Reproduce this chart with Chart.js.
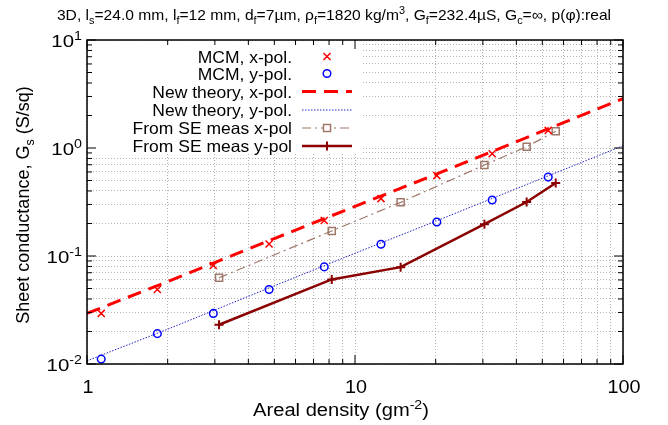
<!DOCTYPE html>
<html>
<head>
<meta charset="utf-8">
<script src="https://cdn.jsdelivr.net/npm/chart.js@4.4.0/dist/chart.umd.min.js"></script>
<style>
  html, body { margin: 0; padding: 0; background: #fff; }
  #wrap { width: 668px; height: 425px; }
</style>
</head>
<body>
<div id="wrap"><canvas id="chart" width="668" height="425"></canvas></div>
<script>
// values
const mcmX = [1.13, 1.83, 2.96, 4.78, 7.68, 12.5, 20.2, 32.5, 52.6];
const mcmXpol = [0.0294, 0.049, 0.0817, 0.129, 0.213, 0.34, 0.555, 0.885, 1.455];
const mcmYpol = [0.0111, 0.0191, 0.0294, 0.049, 0.0793, 0.1285, 0.2066, 0.33, 0.538];

const theoryX = [1, 2, 5, 10, 20, 50, 100];
const theoryXpol = [0.0294, 0.058, 0.145, 0.288, 0.57, 1.43, 2.86];
const theoryYpol = [0.0107, 0.021, 0.053, 0.106, 0.21, 0.525, 1.05];

const seX = [3.11, 8.19, 14.8, 30.4, 43.7, 56.1];
const seXpol = [0.0628, 0.1706, 0.314, 0.695, 1.028, 1.43];
const seYpol = [0.0231, 0.0607, 0.0788, 0.197, 0.316, 0.474];

const xTickValues = [1, 2, 3, 4, 5, 6, 7, 8, 9, 10, 20, 30, 40, 50, 60, 70, 80, 90, 100];
const yTickValues = [0.01, 0.02, 0.03, 0.04, 0.05, 0.06, 0.07, 0.08, 0.09,
                     0.1, 0.2, 0.3, 0.4, 0.5, 0.6, 0.7, 0.8, 0.9,
                     1, 2, 3, 4, 5, 6, 7, 8, 9, 10];
const xLabels = ["1", "10", "100"];
const yLabelExps = ["1", "0", "-1", "-2"];

const FONT = "'Liberation Sans', Arial, sans-serif";

function pts(xs, ys) {
    return xs.map((x, i) => ({ x: x, y: ys[i] }));
}

// text with sub/superscripts: parts = [[text, mode]], mode 0 normal, 1 sup, -1 sub
function drawRich(ctx, parts, x, y, size, align, hs) {
    hs = hs || 1;
    let total = 0;
    const widths = parts.map(p => {
        ctx.font = (p[1] ? size * 0.7 : size) + "px " + FONT;
        const w = ctx.measureText(p[0]).width;
        total += w;
        return w;
    });
    ctx.save();
    ctx.translate(x, y);
    ctx.scale(hs, 1);
    let cx = align === "center" ? -total / 2 : align === "right" ? -total : 0;
    ctx.textAlign = "left";
    ctx.textBaseline = "alphabetic";
    parts.forEach((p, i) => {
        ctx.font = (p[1] ? size * 0.7 : size) + "px " + FONT;
        let dy = p[1] === 1 ? -size * 0.42 : p[1] === -1 ? size * 0.25 : 0;
        ctx.fillText(p[0], cx, dy);
        cx += widths[i];
    });
    ctx.restore();
}

const legendItems = [
    { text: "MCM, x-pol.", ds: 0 },
    { text: "MCM, y-pol.", ds: 1 },
    { text: "New theory, x-pol.", ds: 2 },
    { text: "New theory, y-pol.", ds: 3 },
    { text: "From SE meas x-pol", ds: 4 },
    { text: "From SE meas y-pol", ds: 5 }
];

const decorPlugin = {
    id: "decor",
    beforeDatasetsDraw(chart) {
        const ctx = chart.ctx;
        const area = chart.chartArea;
        // opaque key box
        ctx.save();
        ctx.fillStyle = "#fff";
        ctx.fillRect(area.left + 1, area.top + 1, 275, 112);
        ctx.restore();
    },
    afterDatasetsDraw(chart) {
        const ctx = chart.ctx;
        const area = chart.chartArea;
        const xs = chart.scales.x, ys = chart.scales.y;
        ctx.save();

        // frame
        ctx.strokeStyle = "#000";
        ctx.lineWidth = 1.5;
        ctx.setLineDash([]);
        ctx.strokeRect(area.left, area.top, area.right - area.left, area.bottom - area.top);

        // inward ticks on all sides
        ctx.lineWidth = 1;
        ctx.beginPath();
        xTickValues.forEach(v => {
            const major = Math.abs(Math.log10(v) - Math.round(Math.log10(v))) < 1e-9;
            const len = major ? 9 : 5;
            const px = xs.getPixelForValue(v);
            ctx.moveTo(px, area.bottom); ctx.lineTo(px, area.bottom - len);
            ctx.moveTo(px, area.top); ctx.lineTo(px, area.top + len);
        });
        yTickValues.forEach(v => {
            const major = Math.abs(Math.log10(v) - Math.round(Math.log10(v))) < 1e-9;
            const len = major ? 9 : 5;
            const py = ys.getPixelForValue(v);
            ctx.moveTo(area.left, py); ctx.lineTo(area.left + len, py);
            ctx.moveTo(area.right, py); ctx.lineTo(area.right - len, py);
        });
        ctx.stroke();

        ctx.fillStyle = "#000";
        // x tick labels
        [1, 10, 100].forEach((v, i) => {
            drawRich(ctx, [[xLabels[i], 0]], xs.getPixelForValue(v) + 1, area.bottom + 29, 18, "center", 1.1);
        });
        // y tick labels
        [10, 1, 0.1, 0.01].forEach((v, i) => {
            drawRich(ctx, [["10", 0], [yLabelExps[i], 1]], area.left - 5, ys.getPixelForValue(v) + 7, 17, "right", 1.2);
        });

        // axis titles
        drawRich(ctx, [["Areal density (gm", 0], ["-2", 1], [")", 0]], 341, 416, 17.5, "center", 1.15);
        ctx.save();
        ctx.translate(29, 205);
        ctx.rotate(-Math.PI / 2);
        drawRich(ctx, [["Sheet conductance, G", 0], ["s", -1], [" (S/sq)", 0]], 0, 0, 18, "center");
        ctx.restore();

        // title
        drawRich(ctx, [
            ["3D, l", 0], ["s", -1], ["=24.0 mm, l", 0], ["f", -1], ["=12 mm, d", 0], ["f", -1],
            ["=7\u00b5m, \u03c1", 0], ["f", -1], ["=1820 kg/m", 0], ["3", 1], [", G", 0], ["f", -1],
            ["=232.4\u00b5S, G", 0], ["c", -1], ["=\u221e, p(\u03c6):real", 0]
        ], 334, 20, 15, "center", 1.04);

        // key
        const rowY = [56.5, 73.5, 91.5, 110, 128, 146];
        legendItems.forEach((item, i) => {
            const y = rowY[i];
            ctx.fillStyle = "#000";
            drawRich(ctx, [[item.text, 0]], 292, y + 6, 16.5, "right", 1.06);
            const ds = chart.data.datasets[item.ds];
            if (ds.showLine) {
                ctx.save();
                ctx.strokeStyle = ds.borderColor;
                ctx.lineWidth = ds.borderWidth;
                ctx.setLineDash(ds.borderDash || []);
                ctx.beginPath();
                ctx.moveTo(302, y); ctx.lineTo(352, y);
                ctx.stroke();
                ctx.restore();
            }
            if (ds.pointRadius > 0) {
                ctx.save();
                ctx.setLineDash([]);
                ctx.strokeStyle = ds.pointBorderColor;
                ctx.fillStyle = "#fff";
                ctx.lineWidth = ds.pointBorderWidth;
                Chart.helpers.drawPoint(ctx, {
                    pointStyle: ds.pointStyle, rotation: 0,
                    radius: ds.pointRadius, borderWidth: ds.pointBorderWidth
                }, 327, y);
                ctx.restore();
            }
        });
        ctx.restore();
    }
};

new Chart(document.getElementById("chart"), {
    type: "scatter",
    data: {
        datasets: [
            {
                label: "MCM, x-pol.",
                data: pts(mcmX, mcmXpol),
                showLine: false,
                pointStyle: "crossRot",
                pointRadius: 5,
                pointBorderWidth: 1.5,
                pointBorderColor: "#ff0000",
                borderColor: "#ff0000",
                order: 1
            },
            {
                label: "MCM, y-pol.",
                data: pts(mcmX, mcmYpol),
                showLine: false,
                pointStyle: "circle",
                pointRadius: 3.8,
                pointBorderWidth: 1.5,
                pointBorderColor: "#0000ff",
                pointBackgroundColor: "rgba(0,0,0,0)",
                borderColor: "#0000ff",
                order: 1
            },
            {
                label: "New theory, x-pol.",
                data: pts(theoryX, theoryXpol),
                showLine: true,
                borderColor: "#ff0000",
                borderWidth: 3,
                borderDash: [14, 8],
                pointRadius: 0,
                order: 3
            },
            {
                label: "New theory, y-pol.",
                data: pts(theoryX, theoryYpol),
                showLine: true,
                borderColor: "#2222cc",
                borderWidth: 1,
                borderDash: [1.5, 1.5],
                pointRadius: 0,
                order: 3
            },
            {
                label: "From SE meas x-pol",
                data: pts(seX, seXpol),
                showLine: true,
                borderColor: "#a0786a",
                borderWidth: 1.2,
                borderDash: [9, 4, 2, 4],
                pointStyle: "rect",
                pointRadius: 5,
                pointBorderWidth: 1.5,
                pointBorderColor: "#a0786a",
                pointBackgroundColor: "rgba(0,0,0,0)",
                order: 2
            },
            {
                label: "From SE meas y-pol",
                data: pts(seX, seYpol),
                showLine: true,
                borderColor: "#8b0000",
                borderWidth: 2.5,
                pointStyle: "cross",
                pointRadius: 4.5,
                pointBorderWidth: 2,
                pointBorderColor: "#8b0000",
                order: 2
            }
        ]
    },
    options: {
        responsive: false,
        animation: false,
        layout: { padding: { top: 40, right: 45, left: 0, bottom: 0 } },
        plugins: {
            legend: { display: false },
            tooltip: { enabled: false },
            title: { display: false }
        },
        scales: {
            x: {
                type: "logarithmic",
                min: 1,
                max: 100,
                afterBuildTicks: s => { s.ticks = xTickValues.map(v => ({ value: v })); },
                afterFit: s => { s.height = 61; },
                ticks: { display: false },
                grid: { color: "#b4b4b4", lineWidth: 1, drawTicks: false },
                border: { display: false, dash: [1, 2] }
            },
            y: {
                type: "logarithmic",
                min: 0.01,
                max: 10,
                afterBuildTicks: s => { s.ticks = yTickValues.map(v => ({ value: v })); },
                afterFit: s => { s.width = 87; },
                ticks: { display: false },
                grid: { color: "#b4b4b4", lineWidth: 1, drawTicks: false },
                border: { display: false, dash: [1, 2] }
            }
        }
    },
    plugins: [decorPlugin]
});
</script>
</body>
</html>
